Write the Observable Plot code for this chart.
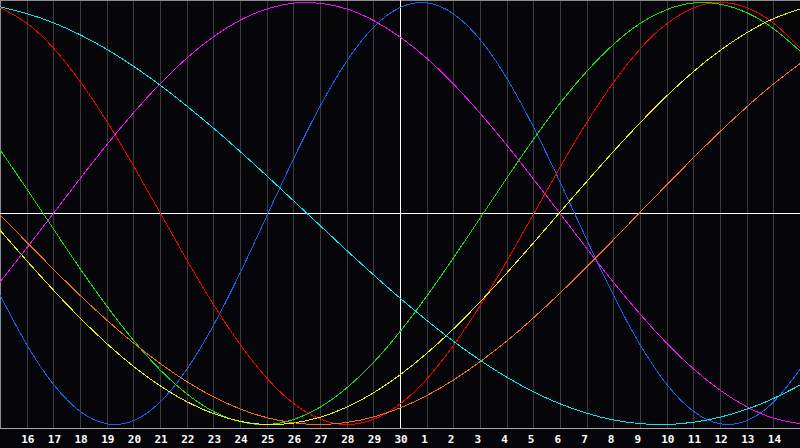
<!DOCTYPE html>
<html><head><meta charset="utf-8">
<script src="https://cdn.jsdelivr.net/npm/d3@7"></script>
<script src="https://cdn.jsdelivr.net/npm/@observablehq/plot@0.6"></script>
<style>html,body{margin:0;padding:0;background:#060509;} #chart svg{display:block}</style>
</head><body><div id="chart"></div>
<script>
// Day labels for each column (index 0 = left edge, index 30 = right edge)
const dayLabels = [15,16,17,18,19,20,21,22,23,24,25,26,27,28,29,30,1,2,3,4,5,6,7,8,9,10,11,12,13,14,15];
const tickIndex = [1,2,3,4,5,6,7,8,9,10,11,12,13,14,15,16,17,18,19,20,21,22,23,24,25,26,27,28,29];
const todayIndex = [15];

// Series values, one per day (-1 .. 1)
const physical = [-0.391,-0.625,-0.812,-0.939,-0.997,-0.981,-0.892,-0.736,-0.527,-0.278,-0.008,0.262,0.512,0.725,0.884,0.977,0.998,0.945,0.822,0.638,0.406,0.145,-0.128,-0.391,-0.625,-0.812,-0.939,-0.997,-0.981,-0.892,-0.736];
const emotional = [0.975,0.901,0.782,0.623,0.434,0.223,0,-0.223,-0.434,-0.623,-0.782,-0.901,-0.975,-1,-0.975,-0.901,-0.782,-0.623,-0.434,-0.223,0,0.223,0.434,0.623,0.782,0.901,0.975,1,0.975,0.901,0.782];
const intellectual = [0.300,0.114,-0.076,-0.264,-0.441,-0.603,-0.743,-0.856,-0.939,-0.987,-1.000,-0.976,-0.917,-0.825,-0.704,-0.557,-0.389,-0.208,-0.019,0.171,0.354,0.525,0.676,0.803,0.902,0.967,0.998,0.992,0.951,0.875,0.768];
const intuitive = [-0.322,-0.161,0.003,0.168,0.328,0.479,0.617,0.738,0.839,0.917,0.970,0.997,0.996,0.969,0.914,0.835,0.734,0.612,0.473,0.322,0.161,-0.003,-0.168,-0.328,-0.479,-0.617,-0.738,-0.839,-0.917,-0.970,-0.997];
const aesthetic = [-0.082,-0.226,-0.365,-0.497,-0.618,-0.726,-0.818,-0.893,-0.949,-0.985,-1.000,-0.993,-0.965,-0.917,-0.849,-0.763,-0.661,-0.545,-0.417,-0.280,-0.137,0.009,0.154,0.296,0.432,0.559,0.674,0.774,0.858,0.924,0.970];
const awareness = [-0.008,-0.138,-0.266,-0.390,-0.507,-0.615,-0.712,-0.798,-0.870,-0.927,-0.968,-0.992,-1.000,-0.990,-0.964,-0.921,-0.862,-0.788,-0.701,-0.603,-0.493,-0.375,-0.251,-0.123,0.008,0.138,0.266,0.390,0.507,0.615,0.712];
const spiritual = [0.979,0.947,0.903,0.846,0.777,0.697,0.607,0.508,0.403,0.292,0.177,0.059,-0.059,-0.177,-0.292,-0.403,-0.508,-0.607,-0.697,-0.777,-0.846,-0.903,-0.947,-0.979,-0.996,-1.000,-0.989,-0.965,-0.927,-0.876,-0.812];

const seriesNames = ["Physical","Emotional","Intellectual","Intuitive","Aesthetic","Awareness","Spiritual"];
const seriesColors = ["#1464f0","#f00000","#10e010","#f010f0","#f0f000","#f07010","#00e8f0"];
const seriesValues = [physical, emotional, intellectual, intuitive, aesthetic, awareness, spiritual];

const rows = seriesValues.flatMap((vals, s) => vals.map((v, i) => ({i, v, name: seriesNames[s]})));

const chart = Plot.plot({
  width: 800, height: 448,
  marginTop: 0, marginRight: 0, marginBottom: 20, marginLeft: 0,
  style: {background: "#060509", color: "#fff", fontFamily: "'DejaVu Sans Mono', monospace", fontSize: "11px", fontWeight: "bold"},
  x: {domain: [0, 30], range: [0, 800], label: null},
  y: {domain: [-1, 1], range: [424, 2], axis: null},
  color: {domain: seriesNames, range: seriesColors},
  marks: [
    Plot.ruleX(tickIndex.filter(d => !todayIndex.includes(d)), {x: d => d, stroke: "#3c3c3c", strokeWidth: 1, shapeRendering: "crispEdges"}),
    Plot.frame({anchor: "top", stroke: "#8c8c8c", shapeRendering: "crispEdges"}),
    Plot.frame({anchor: "left", stroke: "#8c8c8c", shapeRendering: "crispEdges"}),
    Plot.frame({anchor: "bottom", stroke: "#a8a8a8", shapeRendering: "crispEdges"}),
    Plot.ruleY([0], {stroke: "#ffffff", strokeWidth: 1, shapeRendering: "crispEdges"}),
    Plot.ruleX(todayIndex, {x: d => d, stroke: "#ffffff", strokeWidth: 1, shapeRendering: "crispEdges"}),
    Plot.line(rows, {x: "i", y: "v", z: "name", stroke: "name", curve: "natural", strokeWidth: 1, shapeRendering: "crispEdges"}),
    Plot.axisX({ticks: tickIndex, tickFormat: i => dayLabels[i], tickSize: 0, tickPadding: 7, textAnchor: "start", dx: -6, fill: "#ffffff", label: null})
  ]
});
document.getElementById("chart").appendChild(chart);
</script>
</body></html>
